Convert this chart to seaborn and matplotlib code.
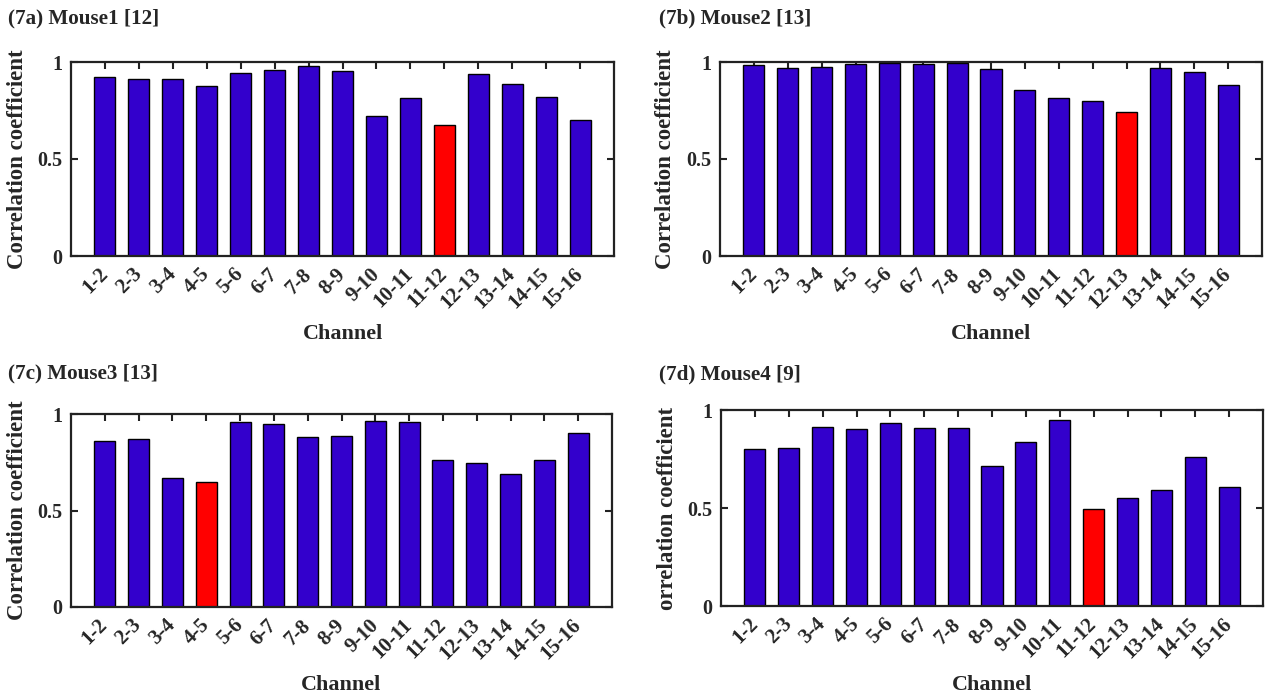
import matplotlib
matplotlib.use("Agg")
import matplotlib.pyplot as plt
import matplotlib.transforms as mtransforms
import seaborn as sns

channels = ["1-2", "2-3", "3-4", "4-5", "5-6", "6-7", "7-8", "8-9", "9-10",
            "10-11", "11-12", "12-13", "13-14", "14-15", "15-16"]

mouse1 = [0.923, 0.912, 0.912, 0.876, 0.943, 0.959, 0.979, 0.954, 0.722,
          0.814, 0.675, 0.938, 0.887, 0.820, 0.700]
mouse2 = [0.983, 0.969, 0.974, 0.991, 0.995, 0.991, 0.993, 0.964, 0.854,
          0.815, 0.799, 0.744, 0.969, 0.950, 0.883]
mouse3 = [0.861, 0.871, 0.667, 0.650, 0.957, 0.949, 0.880, 0.885, 0.964,
          0.959, 0.763, 0.748, 0.690, 0.760, 0.899]
mouse4 = [0.803, 0.807, 0.911, 0.901, 0.932, 0.909, 0.909, 0.714, 0.839,
          0.947, 0.497, 0.551, 0.591, 0.760, 0.606]

titles = ["(7a) Mouse1 [12]", "(7b) Mouse2 [13]", "(7c) Mouse3 [13]", "(7d) Mouse4 [9]"]
ylabels = ["Correlation coefficient", "Correlation coefficient",
           "Correlation coefficient", "orrelation coefficient"]
highlight = ["11-12", "12-13", "4-5", "11-12"]
yticks = [0, 0.5, 1]
ytick_labels = ["0", "0.5", "1"]

BLUE = "#3300CC"
RED = "#FF0000"

sns.set_theme(style="white")
plt.rcParams["font.family"] = ["Liberation Serif", "DejaVu Serif"]
plt.rcParams["font.weight"] = "bold"

W, H = 1269, 699
fig = plt.figure(figsize=(W / 100, H / 100), dpi=100)

# axes rectangles in pixels: left, top, right, bottom
rects = [(71, 62, 614, 256), (720, 62, 1262, 256),
         (71, 414, 612, 607), (721, 410, 1263, 606)]
title_pos = [(8, 18), (659, 18), (8, 373), (659, 374)]
ylab_x = [-0.080, -0.082, -0.080, -0.080]

data = [mouse1, mouse2, mouse3, mouse4]
shift = mtransforms.ScaledTranslation(4 / 100, 0, fig.dpi_scale_trans)

for i in range(4):
    l, t, r, b = rects[i]
    ax = fig.add_axes([l / W, (H - b) / H, (r - l) / W, (b - t) / H])
    vals = data[i]
    colors = [RED if c == highlight[i] else BLUE for c in channels]
    sns.barplot(x=channels, y=vals, hue=channels, palette=colors, legend=False,
                width=0.62, edgecolor="black", linewidth=1.0, saturation=1,
                ax=ax)
    ax.set_xlim(-1, 15)
    ax.set_ylim(0, 1)
    ax.set_yticks(yticks)
    ax.set_yticklabels(ytick_labels, fontsize=14.5, fontweight="bold")
    ax.set_xticks(range(len(channels)))
    ax.set_xticklabels(channels, rotation=45, ha="right", va="center",
                       rotation_mode="anchor", fontsize=15, fontweight="bold")
    for lab in ax.get_xticklabels():
        lab.set_transform(lab.get_transform() + shift)
    ax.tick_params(axis="both", direction="in", length=5, width=1.5,
                   color="#222222", top=True, right=True, bottom=True, left=True)
    ax.tick_params(axis="x", pad=11)
    ax.tick_params(axis="y", pad=6)
    for s in ax.spines.values():
        s.set_visible(True)
        s.set_linewidth(1.6)
        s.set_color("#222222")
    ax.set_xlabel("Channel", fontsize=15.8, fontweight="bold")
    ax.xaxis.set_label_coords(0.5, -0.35)
    ax.set_ylabel(ylabels[i], fontsize=16.5, fontweight="bold")
    ax.yaxis.set_label_coords(ylab_x[i], 0.5)
    ax.grid(False)
    tx, ty = title_pos[i]
    fig.text(tx / W, 1 - ty / H, titles[i], fontsize=15.2, fontweight="bold",
             ha="left", va="center")

fig.savefig("out.png", dpi=100)
